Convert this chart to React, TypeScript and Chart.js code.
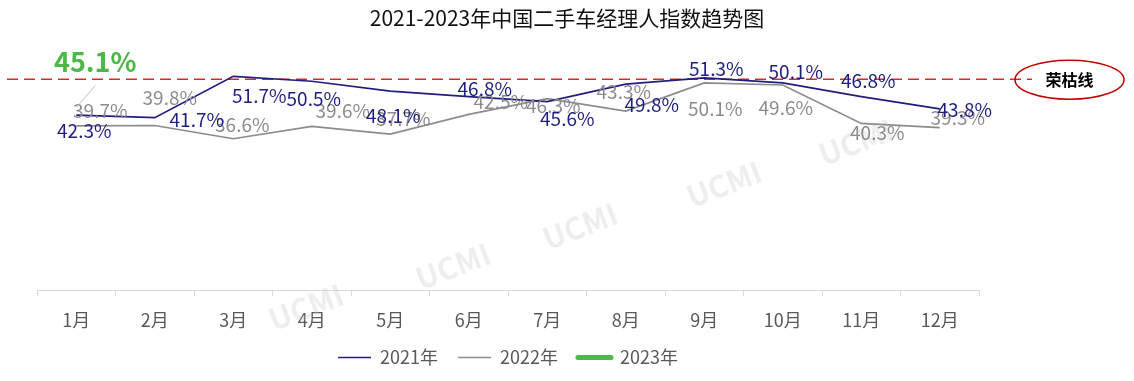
import React, { useEffect, useRef } from 'react';
import { Chart, registerables } from 'chart.js';

Chart.register(...registerables);

const TITLE = '2021-2023年中国二手车经理人指数趋势图';
const MONTHS = ['1月', '2月', '3月', '4月', '5月', '6月', '7月', '8月', '9月', '10月', '11月', '12月'];
const SERIES_NAMES = ['2021年', '2022年', '2023年'];
const SERIES_2021 = [42.3, 41.7, 51.7, 50.5, 48.1, 46.8, 45.6, 49.8, 51.3, 50.1, 46.8, 43.8];
const SERIES_2022 = [39.7, 39.8, 36.6, 39.6, 37.7, 42.5, 46.3, 43.3, 50.1, 49.6, 40.3, 39.3];
const SERIES_2023 = [45.1, null, null, null, null, null, null, null, null, null, null, null];
const THRESHOLD = 51;
const THRESHOLD_LABEL = '荣枯线';
const WATERMARK = 'UCMI';

// label placement (px offsets from each point)
const OFFSETS_2021 = [[8, 16], [42, 2], [26, 19], [2, 18], [3, 25], [16, -8], [20, 17], [26, 21], [12, -9], [13, -11], [7, -16], [25, 1]];
const OFFSETS_2022 = [[24, -15], [15, -28], [9, -14], [31, -16], [13, -15], [32, -13], [6, 7], [-2, -19], [11, 26], [3, 23], [16, 9], [18, -10]];
const OFFSETS_2023 = [[19, -42]];
const WATERMARK_POS = [[306, 307], [453, 266], [580, 226], [724, 184], [856, 142]];

const FONT = "'Noto Sans CJK SC', 'Noto Sans', sans-serif";
const C2021 = '#1f1f7f';
const C2022 = '#8c8c8c';
const C2023 = '#4cb848';

const decorPlugin = {
  id: 'decor',
  beforeDatasetsDraw(chart: any) {
    const ctx = chart.ctx;
    const area = chart.chartArea;
    ctx.save();
    // title (centred on the whole canvas)
    ctx.fillStyle = '#111';
    ctx.font = `21px ${FONT}`;
    ctx.textAlign = 'center';
    ctx.textBaseline = 'middle';
    ctx.fillText(TITLE, chart.width / 2, 18);
    // watermarks
    ctx.fillStyle = 'rgba(200,200,200,0.3)';
    ctx.font = `bold 30px ${FONT}`;
    WATERMARK_POS.forEach(([x, y]) => {
      ctx.save();
      ctx.translate(x, y);
      ctx.rotate(-0.36);
      ctx.fillText(WATERMARK, 0, 0);
      ctx.restore();
    });
    // threshold line
    const y = chart.scales.y.getPixelForValue(THRESHOLD);
    ctx.strokeStyle = '#e02828';
    ctx.lineWidth = 1.5;
    ctx.setLineDash([11, 6]);
    ctx.beginPath();
    ctx.moveTo(7, y);
    ctx.lineTo(area.right + 53, y);
    ctx.stroke();
    ctx.setLineDash([]);
    // ellipse annotation
    const cx = area.right + 90.5;
    ctx.strokeStyle = '#c00000';
    ctx.lineWidth = 1.5;
    ctx.beginPath();
    ctx.ellipse(cx, y + 0.5, 54.5, 19.5, 0, 0, Math.PI * 2);
    ctx.stroke();
    ctx.fillStyle = '#000';
    ctx.font = `bold 16px ${FONT}`;
    ctx.fillText(THRESHOLD_LABEL, cx, y + 1);
    ctx.restore();
  },
  afterDatasetsDraw(chart: any) {
    const ctx = chart.ctx;
    ctx.save();
    ctx.textAlign = 'center';
    ctx.textBaseline = 'middle';
    const groups = [
      { idx: 1, offs: OFFSETS_2022, color: C2022, font: `19px ${FONT}` },
      { idx: 0, offs: OFFSETS_2021, color: C2021, font: `19px ${FONT}` },
      { idx: 2, offs: OFFSETS_2023, color: C2023, font: `bold 27px ${FONT}` },
    ];
    groups.forEach(({ idx, offs, color, font }) => {
      const meta = chart.getDatasetMeta(idx);
      const data = chart.data.datasets[idx].data;
      meta.data.forEach((pt: any, j: number) => {
        const v = data[j];
        if (v === null || v === undefined || !offs[j]) return;
        const [dx, dy] = offs[j];
        if (idx === 2) {
          ctx.strokeStyle = '#bfbfbf';
          ctx.lineWidth = 1;
          ctx.beginPath();
          ctx.moveTo(pt.x, pt.y + 4);
          ctx.lineTo(pt.x + dx, pt.y + dy + 24);
          ctx.stroke();
        }
        ctx.fillStyle = color;
        ctx.font = font;
        ctx.fillText(`${v.toFixed(1)}%`, pt.x + dx, pt.y + dy);
      });
    });
    ctx.restore();
  },
};

export default function App() {
  const ref = useRef<HTMLCanvasElement>(null);
  useEffect(() => {
    document.body.style.margin = '0';
    const chart = new Chart(ref.current as HTMLCanvasElement, {
      type: 'line',
      data: {
        labels: MONTHS,
        datasets: [
          { label: SERIES_NAMES[0], data: SERIES_2021, borderColor: C2021, backgroundColor: C2021, borderWidth: 1.7, pointRadius: 0, tension: 0 },
          { label: SERIES_NAMES[1], data: SERIES_2022, borderColor: C2022, backgroundColor: C2022, borderWidth: 1.7, pointRadius: 0, tension: 0 },
          { label: SERIES_NAMES[2], data: SERIES_2023 as any, borderColor: C2023, backgroundColor: C2023, borderWidth: 4, pointRadius: 0, tension: 0 },
        ],
      },
      options: {
        responsive: false,
        animation: false,
        devicePixelRatio: 1,
        layout: { padding: { left: 37, right: 155, top: 42, bottom: 4.5 } },
        scales: {
          x: {
            offset: true,
            grid: { display: true, drawOnChartArea: false, drawTicks: true, tickLength: 6, color: '#d9d9d9', offset: true },
            border: { display: true, color: '#d9d9d9', width: 1 },
            ticks: { color: '#595959', font: { size: 18, family: FONT }, padding: 13 },
            afterFit: (scale: any) => {
              scale.height = 38.5;
            },
          },
          y: { display: false, min: 0, max: 60 },
        },
        plugins: {
          title: { display: false },
          legend: {
            position: 'bottom',
            labels: {
              color: '#595959',
              font: { size: 18, family: FONT },
              usePointStyle: true,
              pointStyle: 'line',
              pointStyleWidth: 33,
              padding: 20,
              generateLabels: (c: any) =>
                c.data.datasets.map((ds: any, i: number) => ({
                  text: ds.label,
                  fillStyle: ds.borderColor,
                  strokeStyle: ds.borderColor,
                  lineWidth: i === 2 ? 5 : 1.7,
                  lineCap: i === 2 ? 'round' : 'butt',
                  pointStyle: 'line',
                  fontColor: '#595959',
                  hidden: false,
                  datasetIndex: i,
                })),
            },
          },
          tooltip: { enabled: false },
        },
      },
      plugins: [decorPlugin],
    });
    return () => chart.destroy();
  }, []);
  return (
    <div style={{ position: 'fixed', left: 0, top: 0, width: 1134, height: 381, background: '#fff' }}>
      <canvas ref={ref} width={1134} height={381} />
    </div>
  );
}
